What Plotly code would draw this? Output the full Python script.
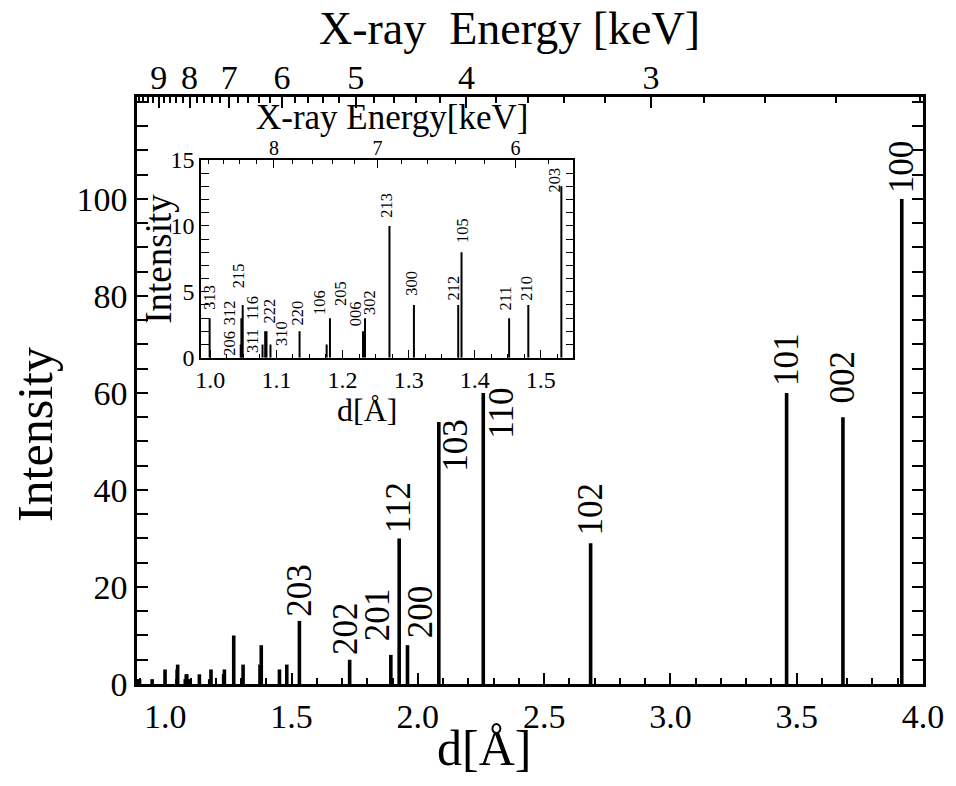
import plotly.graph_objects as go

# ---------------- data ----------------
# weak reflections below the inset range (unlabelled in main plot)
low_d = [0.893, 0.898, 0.948]
low_I = [1, 1, 1]

# reflections shown (and labelled) in the inset
inset_hkl = ['313', '206', '312', '215', '311', '116', '222', '310', '220', '106',
             '205', '006', '302', '213', '300', '212', '105', '211', '210', '203']
inset_d = [0.999, 1.046, 1.047, 1.049, 1.079, 1.083, 1.085, 1.091, 1.135, 1.176,
           1.181, 1.231, 1.234, 1.271, 1.308, 1.375, 1.380, 1.452, 1.481, 1.531]
inset_I = [3, 1, 3, 4, 1, 2, 2, 1, 2, 1,
           3, 2, 3, 10, 4, 4, 8, 3, 4, 13]

# strong reflections labelled in the main plot
main_hkl = ['203', '202', '201', '112', '200', '103', '110', '102', '101', '002', '100']
main_d = [1.531, 1.730, 1.893, 1.926, 1.959, 2.083, 2.259, 2.684, 3.460, 3.683, 3.916]
main_I = [13, 5, 6, 30, 8, 54, 60, 29, 60, 55, 100]

# E[keV] * d[A] constant for the energy axis
K_EDISP = 8.77
main_E_major = [3, 4, 5, 6, 7, 8, 9]
inset_E_major = [6, 7, 8]

# ---------------- style / layout (pixel offsets for labels) ----------------
FONT = "Liberation Serif, Times New Roman, serif"
W, H = 956, 786
L, R, T, B = 137, 931, 97, 684      # main plot area in px

main_label_off = {  # dx, dy (px) of label bottom-centre relative to bar top
    '203': (0, 2), '202': (-4, 3), '201': (-13, 12), '112': (0, 3), '200': (13, 5),
    '103': (16.5, -52), '110': (18, -48), '102': (0, 6), '101': (0, 5),
    '002': (0, 12), '100': (0, 4)}
inset_label_off = {
    '313': (0, 6.5), '206': (-10.7, -13.8), '312': (-11.7, -8.8), '215': (-4, 15),
    '311': (-10.5, -10.5), '116': (-13.2, 9.3), '222': (3.5, 6.3), '310': (11, -3.5),
    '220': (-2.5, 3.3), '106': (-7.3, 27.5), '205': (10.5, 10.2), '006': (-7.3, 3.3),
    '302': (4.5, 1.2), '213': (-3.2, 5.9), '300': (-2.7, 7), '212': (-5.2, 2),
    '105': (1, 7.3), '211': (-2.7, 6.2), '210': (-2, 2), '203': (-7.2, -8.6)}


def px2paper(x, y):
    return (x - L) / (R - L), (B - y) / (B - T)


def stems(ds, Is):
    xs, ys = [], []
    for d, i in zip(ds, Is):
        xs += [d, d, None]
        ys += [0, i, None]
    return xs, ys


x_range = [0.888, 4.0]
y_range = [0, 121]
ix_range = [0.986, 1.549]
iy_range = [0, 15]

all_d = low_d + inset_d + [d for d in main_d if d not in inset_d]
all_I = low_I + inset_I + [i for d, i in zip(main_d, main_I) if d not in inset_d]

fig = go.Figure()
mx, my = stems(all_d, all_I)
fig.add_trace(go.Scatter(x=mx, y=my, mode='lines', line=dict(color='black', width=3.6),
                         xaxis='x', yaxis='y', hoverinfo='skip', showlegend=False))
ix, iy = stems(inset_d, inset_I)
fig.add_trace(go.Scatter(x=ix, y=iy, mode='lines', line=dict(color='black', width=2),
                         xaxis='x3', yaxis='y3', hoverinfo='skip', showlegend=False))
# dummy traces so the overlaying energy axes are drawn
fig.add_trace(go.Scatter(x=x_range, y=[0, 0], mode='markers', marker=dict(opacity=0),
                         xaxis='x2', yaxis='y', hoverinfo='skip', showlegend=False))
fig.add_trace(go.Scatter(x=ix_range, y=[0, 0], mode='markers', marker=dict(opacity=0),
                         xaxis='x4', yaxis='y3', hoverinfo='skip', showlegend=False))


def e_minor(lo, hi):
    vals = []
    k = int(round(lo * 5))
    while k / 5 <= hi + 1e-9:
        e = k / 5
        if abs(e - round(e)) > 1e-6:
            vals.append(K_EDISP / e)
        k += 1
    return vals


tickfont_main = dict(family=FONT, size=34, color='black')
tickfont_inset = dict(family=FONT, size=24, color='black')

ixd0, ixd1 = px2paper(201.7, 0)[0], px2paper(577.7, 0)[0]
iyd0, iyd1 = px2paper(0, 357.7)[1], px2paper(0, 160)[1]

fig.update_layout(
    width=W, height=H,
    margin=dict(l=L, r=W - R, t=T, b=H - B, pad=0),
    paper_bgcolor='white', plot_bgcolor='white',
    font=dict(family=FONT, color='black'),
    showlegend=False,
    xaxis=dict(range=x_range, domain=[0, 1], anchor='y', tickmode='linear', tick0=0, dtick=0.5,
               tickformat='.1f', ticks='inside', ticklen=11, tickwidth=2, tickcolor='black',
               minor=dict(tickmode='linear', tick0=0, dtick=0.1, ticks='inside', ticklen=6,
                          tickwidth=2, tickcolor='black'),
               showline=True, linewidth=2.5, linecolor='black', mirror=True,
               showgrid=False, zeroline=False, tickfont=tickfont_main),
    xaxis2=dict(range=x_range, overlaying='x', side='top', anchor='y', tickmode='array',
                tickvals=[K_EDISP / e for e in main_E_major], ticktext=[str(e) for e in main_E_major],
                ticks='inside', ticklen=11, tickwidth=2, tickcolor='black',
                minor=dict(tickmode='array', tickvals=e_minor(2.2, 9.8), ticks='inside',
                           ticklen=6, tickwidth=2, tickcolor='black'),
                showline=False, showgrid=False, zeroline=False, tickfont=tickfont_main),
    yaxis=dict(range=y_range, domain=[0, 1], anchor='x', tickmode='array',
               tickvals=[0, 20, 40, 60, 80, 100], ticks='inside', ticklen=11, tickwidth=2,
               tickcolor='black',
               minor=dict(tickmode='linear', tick0=0, dtick=5, ticks='inside', ticklen=6,
                          tickwidth=2, tickcolor='black'),
               showline=True, linewidth=2.5, linecolor='black', mirror='allticks',
               showgrid=False, zeroline=False, tickfont=tickfont_main),
    xaxis3=dict(range=ix_range, domain=[ixd0, ixd1], anchor='y3', tickmode='linear', tick0=0,
                dtick=0.1, tickformat='.1f', ticks='inside', ticklen=8, tickwidth=1.2,
                tickcolor='black',
                minor=dict(tickmode='linear', tick0=0, dtick=0.025, ticks='inside', ticklen=4,
                           tickwidth=1.2, tickcolor='black'),
                showline=True, linewidth=1.5, linecolor='black', mirror=True,
                showgrid=False, zeroline=False, tickfont=tickfont_inset),
    xaxis4=dict(range=ix_range, overlaying='x3', side='top', anchor='y3', tickmode='array',
                tickvals=[K_EDISP / e for e in inset_E_major],
                ticktext=[str(e) for e in inset_E_major],
                ticks='inside', ticklen=8, tickwidth=1.2, tickcolor='black',
                minor=dict(tickmode='array', tickvals=e_minor(5.8, 8.8), ticks='inside',
                           ticklen=4, tickwidth=1.2, tickcolor='black'),
                showline=False, showgrid=False, zeroline=False,
                tickfont=dict(family=FONT, size=20, color='black')),
    yaxis3=dict(range=iy_range, domain=[iyd0, iyd1], anchor='x3', tickmode='linear', tick0=0,
                dtick=5, ticks='inside', ticklen=8, tickwidth=1.2, tickcolor='black',
                minor=dict(tickmode='linear', tick0=0, dtick=1, ticks='inside', ticklen=4,
                           tickwidth=1.2, tickcolor='black'),
                showline=True, linewidth=1.5, linecolor='black', mirror='allticks',
                showgrid=False, zeroline=False, tickfont=tickfont_inset),
)

ann = []
for hkl, d, i in zip(main_hkl, main_d, main_I):
    dx, dy = main_label_off[hkl]
    ann.append(dict(x=d, y=i, xref='x', yref='y', text=hkl, textangle=-90, showarrow=False,
                    xanchor='center', yanchor='bottom', xshift=dx, yshift=dy,
                    font=dict(family=FONT, size=35, color='black')))
for hkl, d, i in zip(inset_hkl, inset_d, inset_I):
    dx, dy = inset_label_off[hkl]
    ann.append(dict(x=d, y=i, xref='x3', yref='y3', text=hkl, textangle=-90, showarrow=False,
                    xanchor='center', yanchor='bottom', xshift=dx, yshift=dy,
                    font=dict(family=FONT, size=16.5, color='black')))


def title(text, px, py, size, angle=0):
    x, y = px2paper(px, py)
    return dict(x=x, y=y, xref='paper', yref='paper', text=text, textangle=angle,
                showarrow=False, xanchor='center', yanchor='middle',
                font=dict(family=FONT, size=size, color='black'))


ann += [
    title('X-ray&nbsp; Energy [keV]', 513, 29, 46),
    title('Intensity', 34, 435, 50, -90),
    title('d[Å]', 488, 748, 50),
    title('X-ray Energy[keV]', 395, 117, 35),
    title('Intensity', 158, 259, 37, -90),
    title('d[Å]', 369, 410, 32),
]
fig.update_layout(annotations=ann)

fig.write_html("out.html")
